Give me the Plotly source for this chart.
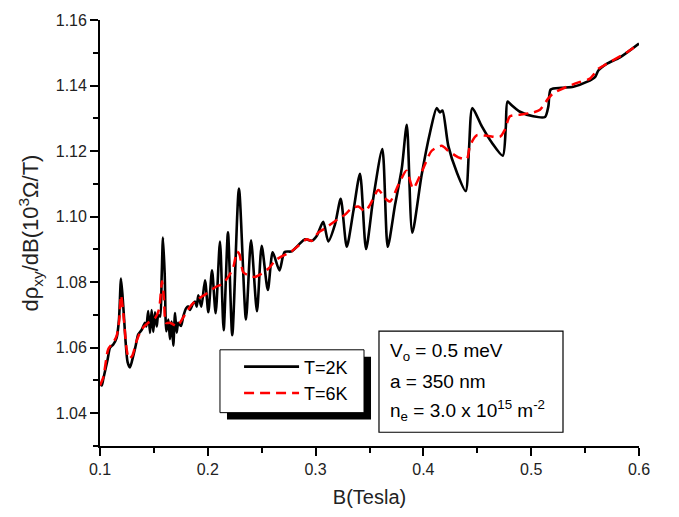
import plotly.graph_objects as go

# ---- data ----
b_2k = [0.1000, 0.1016, 0.1031, 0.1071, 0.1093, 0.1123, 0.1154, 0.1176, 0.1195, 0.1216,
        0.1238, 0.1256, 0.1278, 0.1309, 0.1331, 0.1355, 0.1386, 0.1417, 0.1430, 0.1447,
        0.1464, 0.1479, 0.1494, 0.1510, 0.1526, 0.1541, 0.1557, 0.1572, 0.1584, 0.1600,
        0.1615, 0.1634, 0.1649, 0.1665, 0.1680, 0.1696, 0.1711, 0.1726, 0.1751, 0.1773,
        0.1798, 0.1819, 0.1835, 0.1863, 0.1881, 0.1897, 0.1912, 0.1940, 0.1974, 0.2005,
        0.2039, 0.2073, 0.2113, 0.2147, 0.2187, 0.2227, 0.2289, 0.2354, 0.2401, 0.2456,
        0.2500, 0.2557, 0.2602, 0.2665, 0.2712, 0.2778, 0.2840, 0.2902, 0.2964, 0.3010,
        0.3071, 0.3118, 0.3180, 0.3233, 0.3289, 0.3350, 0.3412, 0.3468, 0.3535, 0.3619,
        0.3669, 0.3737, 0.3799, 0.3846, 0.3897, 0.3983, 0.4061, 0.4123, 0.4154, 0.4177,
        0.4231, 0.4309, 0.4392, 0.4423, 0.4454, 0.4541, 0.4634, 0.4736, 0.4764, 0.4780,
        0.4819, 0.4896, 0.5019, 0.5128, 0.5159, 0.5181, 0.5283, 0.5391, 0.5515, 0.5592,
        0.5623, 0.5700, 0.5824, 0.6000]
d_2k = [1.0490, 1.0485, 1.0505, 1.0565, 1.0600, 1.0610, 1.0630, 1.0686, 1.0811, 1.0726,
        1.0616, 1.0556, 1.0540, 1.0576, 1.0606, 1.0641, 1.0654, 1.0676, 1.0665, 1.0712,
        1.0645, 1.0715, 1.0648, 1.0708, 1.0665, 1.0700, 1.0695, 1.0816, 1.0936, 1.0826,
        1.0650, 1.0686, 1.0626, 1.0680, 1.0606, 1.0706, 1.0646, 1.0676, 1.0666, 1.0696,
        1.0720, 1.0726, 1.0715, 1.0735, 1.0741, 1.0725, 1.0760, 1.0725, 1.0806, 1.0708,
        1.0836, 1.0705, 1.0924, 1.0653, 1.0952, 1.0638, 1.1086, 1.0686, 1.0928, 1.0711,
        1.0911, 1.0776, 1.0891, 1.0836, 1.0892, 1.0894, 1.0913, 1.0931, 1.0926, 1.0941,
        1.0984, 1.0924, 1.0976, 1.1054, 1.0908, 1.1016, 1.1131, 1.0901, 1.1056, 1.1206,
        1.0908, 1.1036, 1.1146, 1.1280, 1.0951, 1.1126, 1.1256, 1.1331, 1.1318, 1.1324,
        1.1216, 1.1136, 1.1078, 1.1206, 1.1331, 1.1276, 1.1226, 1.1186, 1.1270, 1.1351,
        1.1340, 1.1320, 1.1306, 1.1304, 1.1336, 1.1388, 1.1393, 1.1396, 1.1411, 1.1426,
        1.1446, 1.1466, 1.1486, 1.1528]

b_6k = [0.1000, 0.1031, 0.1077, 0.1123, 0.1154, 0.1176, 0.1195, 0.1216, 0.1247, 0.1269,
        0.1300, 0.1340, 0.1386, 0.1447, 0.1510, 0.1547, 0.1575, 0.1594, 0.1612, 0.1649,
        0.1714, 0.1773, 0.1835, 0.1891, 0.1983, 0.2076, 0.2132, 0.2190, 0.2237, 0.2271,
        0.2294, 0.2329, 0.2376, 0.2438, 0.2500, 0.2561, 0.2633, 0.2700, 0.2763, 0.2840,
        0.2917, 0.2964, 0.3025, 0.3087, 0.3180, 0.3273, 0.3335, 0.3396, 0.3458, 0.3505,
        0.3582, 0.3644, 0.3690, 0.3767, 0.3843, 0.3904, 0.3984, 0.4077, 0.4169, 0.4231,
        0.4324, 0.4402, 0.4432, 0.4494, 0.4601, 0.4711, 0.4757, 0.4803, 0.4896, 0.5019,
        0.5082, 0.5159, 0.5204, 0.5329, 0.5453, 0.5545, 0.5623, 0.5700, 0.5885, 0.6000]
d_6k = [1.0485, 1.0510, 1.0596, 1.0616, 1.0636, 1.0676, 1.0760, 1.0706, 1.0596, 1.0566,
        1.0576, 1.0621, 1.0656, 1.0676, 1.0690, 1.0716, 1.0803, 1.0746, 1.0676, 1.0676,
        1.0666, 1.0693, 1.0725, 1.0744, 1.0764, 1.0786, 1.0794, 1.0816, 1.0846, 1.0893,
        1.0885, 1.0830, 1.0821, 1.0816, 1.0826, 1.0841, 1.0868, 1.0881, 1.0891, 1.0911,
        1.0931, 1.0926, 1.0951, 1.0964, 1.0986, 1.1006, 1.1026, 1.1031, 1.1016, 1.1036,
        1.1081, 1.1056, 1.1046, 1.1096, 1.1140, 1.1086, 1.1136, 1.1201, 1.1216, 1.1201,
        1.1181, 1.1176, 1.1216, 1.1248, 1.1246, 1.1244, 1.1266, 1.1306, 1.1311, 1.1318,
        1.1326, 1.1361, 1.1376, 1.1396, 1.1411, 1.1421, 1.1451, 1.1466, 1.1501, 1.1528]

series_names = ["T=2K", "T=6K"]
x_ticks = [0.1, 0.2, 0.3, 0.4, 0.5, 0.6]
y_ticks = [1.04, 1.06, 1.08, 1.10, 1.12, 1.14, 1.16]
info_lines = ["V<sub>o</sub> = 0.5 meV", "a = 350 nm",
              "n<sub>e</sub> = 3.0 x 10<sup>15</sup> m<sup>-2</sup>"]

FONT = "Liberation Sans, Arial, sans-serif"

fig = go.Figure()
fig.add_trace(go.Scatter(x=b_2k, y=d_2k, mode="lines", name=series_names[0],
                         line=dict(color="black", width=2.6, shape="spline", smoothing=0.7)))
fig.add_trace(go.Scatter(x=b_6k, y=d_6k, mode="lines", name=series_names[1],
                         line=dict(color="#ff0000", width=2.5, dash="10px,6px",
                                   shape="spline", smoothing=0.7)))

axis_common = dict(showline=True, linecolor="black", linewidth=1.8, mirror=False,
                   ticks="outside", ticklen=8, tickwidth=1.5, tickcolor="black",
                   showgrid=False, zeroline=False,
                   tickfont=dict(family=FONT, size=16, color="#222"))

fig.update_xaxes(range=[0.1, 0.6], tickvals=x_ticks,
                 ticktext=[f"{v:.1f}" for v in x_ticks],
                 minor=dict(dtick=0.05, tick0=0.1, ticks="outside", ticklen=5,
                            tickwidth=1.5, tickcolor="black"),
                 title=dict(text="B(Tesla)", font=dict(family=FONT, size=20, color="#222"),
                            standoff=13),
                 **axis_common)
fig.update_yaxes(range=[1.03, 1.16], tickvals=y_ticks,
                 ticktext=[f"{v:.2f}" for v in y_ticks],
                 minor=dict(dtick=0.01, tick0=1.03, ticks="outside", ticklen=5,
                            tickwidth=1.5, tickcolor="black"),
                 title=dict(text="dρ<sub>xy</sub>/dB(10<sup>3</sup>Ω/T)",
                            font=dict(family=FONT, size=22, color="#222"), standoff=11),
                 **axis_common)

shapes = [
    # legend shadow and box
    dict(type="rect", xref="paper", yref="paper", x0=0.2356, x1=0.5028, y0=0.0622, y1=0.2097,
         fillcolor="black", line=dict(width=0), layer="above"),
    dict(type="rect", xref="paper", yref="paper", x0=0.2226, x1=0.4898, y0=0.0783, y1=0.2258,
         fillcolor="white", line=dict(color="black", width=1), layer="above"),
    # info box
    dict(type="rect", xref="paper", yref="paper", x0=0.5176, x1=0.8590, y0=0.0323, y1=0.2696,
         fillcolor="white", line=dict(color="black", width=1.2), layer="above"),
]

for txt, yy in zip(info_lines, [0.2212, 0.1521, 0.0829]):
    fig.add_annotation(xref="paper", yref="paper", x=0.5343, y=yy, xanchor="left",
                       yanchor="middle", align="left", showarrow=False, text=txt,
                       font=dict(family=FONT, size=19, color="black"))

fig.update_layout(
    width=679, height=517,
    margin=dict(l=100, r=40, t=12, b=71, pad=0),
    paper_bgcolor="white", plot_bgcolor="white",
    shapes=shapes,
    showlegend=True,
    legend=dict(x=0.258, y=0.229, xanchor="left", yanchor="top",
                bgcolor="rgba(0,0,0,0)", borderwidth=0, itemwidth=55,
                font=dict(family=FONT, size=18, color="black"),
                tracegroupgap=0),
    font=dict(family=FONT),
)

fig.write_html("out.html")
